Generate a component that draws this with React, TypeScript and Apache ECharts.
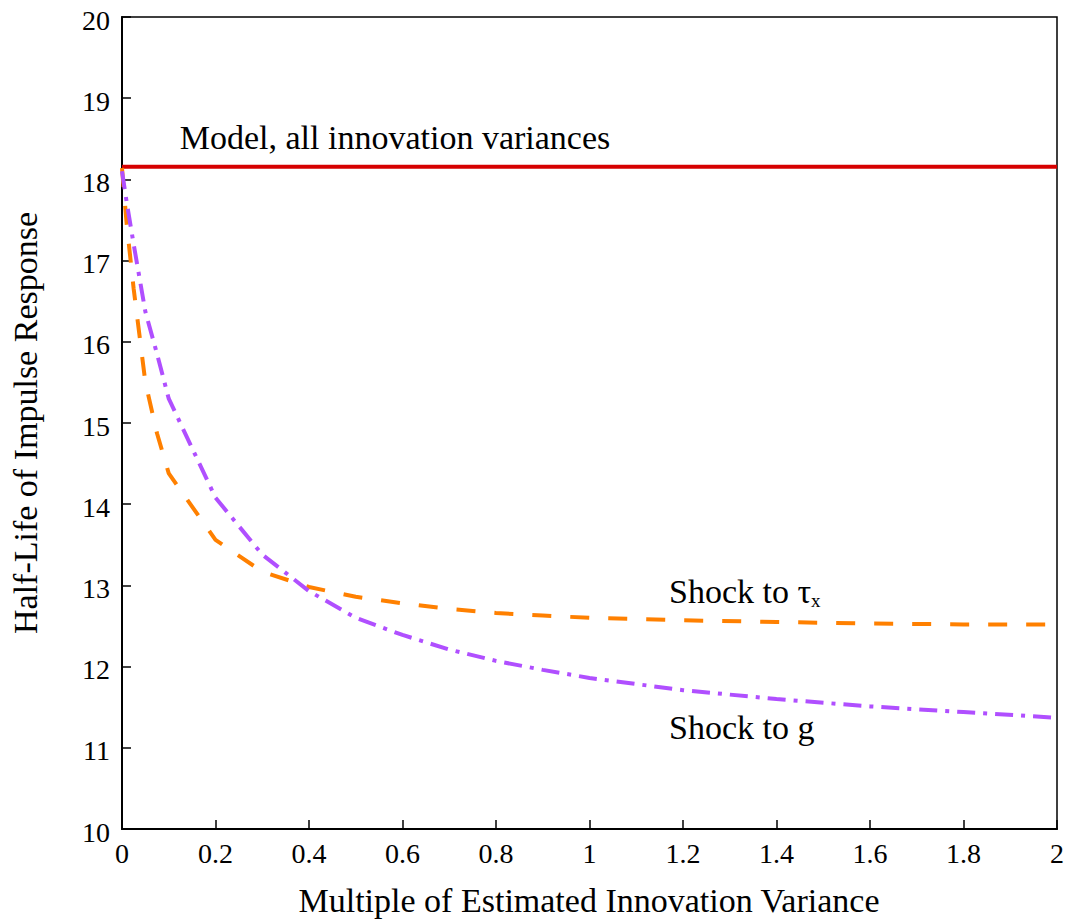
import React, { useEffect, useRef } from "react";
import * as echarts from "echarts";

const xValues = [0, 0.01, 0.025, 0.05, 0.075, 0.1, 0.2, 0.3, 0.4, 0.5, 0.6, 0.7, 0.8, 0.9, 1.0, 1.2, 1.4, 1.6, 1.8, 2.0];
const shockTau = [18.14, 17.45, 16.65, 15.5, 14.87, 14.38, 13.56, 13.17, 12.98, 12.86, 12.78, 12.71, 12.66, 12.63, 12.6, 12.57, 12.55, 12.53, 12.52, 12.52];
const shockG = [18.1, 17.72, 17.2, 16.37, 15.85, 15.3, 14.08, 13.38, 12.93, 12.6, 12.39, 12.21, 12.07, 11.96, 11.86, 11.71, 11.6, 11.51, 11.44, 11.37];
const modelX = [0, 2];
const modelY = [18.155, 18.155];
const xTicks = [0, 0.2, 0.4, 0.6, 0.8, 1, 1.2, 1.4, 1.6, 1.8, 2];
const xTickLabels = ["0", "0.2", "0.4", "0.6", "0.8", "1", "1.2", "1.4", "1.6", "1.8", "2"];
const yTicks = [10, 11, 12, 13, 14, 15, 16, 17, 18, 19, 20];
const yTickLabels = ["10", "11", "12", "13", "14", "15", "16", "17", "18", "19", "20"];

const FONT = "Liberation Serif";

export default function App() {
  const ref = useRef<HTMLDivElement>(null);
  useEffect(() => {
    if (!ref.current) return;
    const chart = echarts.init(ref.current, null, { renderer: "svg" });
    const pairs = (xs: number[], ys: number[]) => xs.map((x, i) => [x, ys[i]]);
    const axisCommon = {
      axisLine: { show: true, onZero: false, lineStyle: { color: "#000", width: 2 } },
      axisTick: { show: true, inside: true, length: 9, lineStyle: { color: "#000", width: 1.5 } },
      splitLine: { show: false },
      axisLabel: { show: false },
    };
    const textGraphics: any[] = [
      {
        type: "text",
        x: 395,
        y: 137,
        style: { text: "Model, all innovation variances", fontFamily: FONT, fontSize: 34, fill: "#000", align: "center", verticalAlign: "middle" },
      },
      {
        type: "text",
        x: 669,
        y: 591,
        style: {
          text: "{a|Shock to τ}{s|x}",
          fill: "#000",
          align: "left",
          verticalAlign: "middle",
          rich: {
            a: { fontFamily: FONT, fontSize: 34, fill: "#000" },
            s: { fontFamily: FONT, fontSize: 19, fill: "#000", padding: [18, 0, 0, 0] },
          },
        },
      },
      {
        type: "text",
        x: 669,
        y: 727,
        style: { text: "Shock to g", fontFamily: FONT, fontSize: 34, fill: "#000", align: "left", verticalAlign: "middle" },
      },
      {
        type: "text",
        x: 25,
        y: 423,
        rotation: Math.PI / 2,
        style: { text: "Half-Life of Impulse Response", fontFamily: FONT, fontSize: 34, fill: "#000", align: "center", verticalAlign: "middle" },
      },
      {
        type: "text",
        x: 589,
        y: 900,
        style: { text: "Multiple of Estimated Innovation Variance", fontFamily: FONT, fontSize: 34, fill: "#000", align: "center", verticalAlign: "middle" },
      },
    ];
    chart.setOption({
      animation: false,
      backgroundColor: "#fff",
      grid: { left: 122, right: 11, top: 17, bottom: 95, show: true, borderColor: "#000", borderWidth: 1.5, backgroundColor: "transparent" },
      xAxis: { type: "value", min: 0, max: 2, interval: 0.2, ...axisCommon },
      yAxis: { type: "value", min: 10, max: 20, interval: 1, ...axisCommon },
      series: [
        { type: "line", data: pairs(modelX, modelY), showSymbol: false, lineStyle: { color: "#d60000", width: 4 } },
        { type: "line", data: pairs(xValues, shockTau), showSymbol: false, lineStyle: { color: "#ff8000", width: 4, type: [19, 19] } },
        { type: "line", data: pairs(xValues, shockG), showSymbol: false, lineStyle: { color: "#b04fff", width: 4, type: [18, 8, 4, 8] } },
      ],
      graphic: textGraphics,
    });
    const tickGraphics: any[] = [];
    const origin = chart.convertToPixel({ gridIndex: 0 }, [0, 10]);
    const baseX = origin[0];
    const baseY = origin[1];
    xTicks.forEach((t, i) => {
      const px = chart.convertToPixel({ gridIndex: 0 }, [t, 10])[0];
      tickGraphics.push({
        type: "text",
        x: px,
        y: baseY + 10,
        style: { text: xTickLabels[i], fontFamily: FONT, fontSize: 28, fill: "#000", align: "center", verticalAlign: "top" },
      });
    });
    yTicks.forEach((t, i) => {
      const py = chart.convertToPixel({ gridIndex: 0 }, [0, t])[1];
      tickGraphics.push({
        type: "text",
        x: baseX - 12,
        y: py + 3,
        style: { text: yTickLabels[i], fontFamily: FONT, fontSize: 28, fill: "#000", align: "right", verticalAlign: "middle" },
      });
    });
    chart.setOption({ graphic: [...textGraphics, ...tickGraphics] });
    return () => chart.dispose();
  }, []);
  return <div ref={ref} style={{ width: 1068, height: 924, position: "absolute", left: 0, top: 0 }} />;
}
